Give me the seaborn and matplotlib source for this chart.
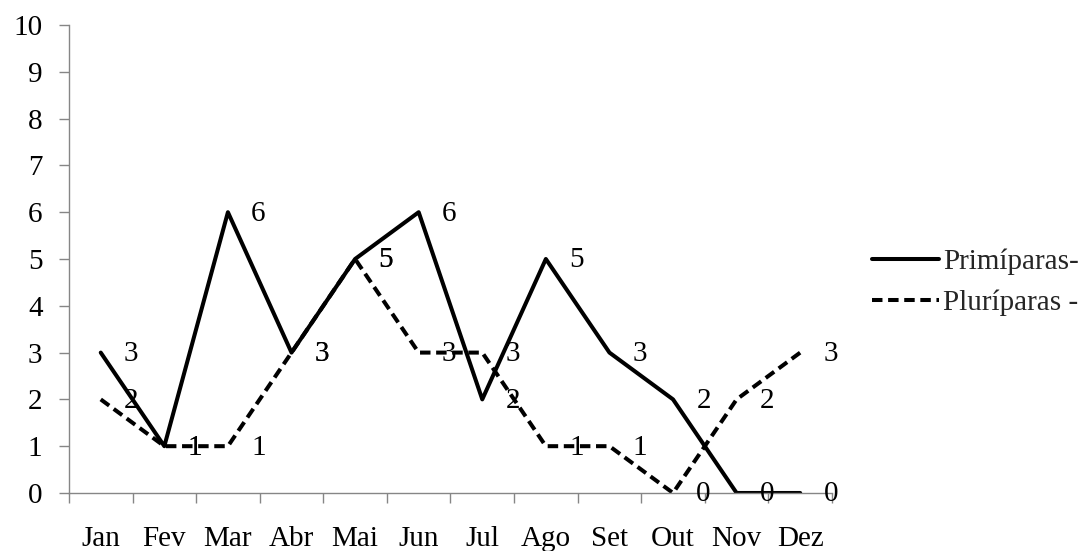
import matplotlib
matplotlib.use("Agg")
import matplotlib.pyplot as plt
from matplotlib.lines import Line2D
import numpy as np
import pandas as pd
import seaborn as sns

# Monthly counts for each group
meses = ["Jan", "Fev", "Mar", "Abr", "Mai", "Jun", "Jul", "Ago", "Set", "Out", "Nov", "Dez"]
primiparas = [3, 1, 6, 3, 5, 6, 2, 5, 3, 2, 0, 0]
pluriparas = [2, 1, 1, 3, 5, 3, 3, 1, 1, 0, 2, 3]
series_names = ["Primíparas-", "Pluríparas -"]
y_ticks = list(range(0, 11))

sns.set_theme(style="white")
plt.rcParams["font.family"] = ["Liberation Serif", "DejaVu Serif"]
FS = 21
plt.rcParams["font.size"] = FS

axis_grey = "#868686"
LW = 2.9
DASH = (2.6, 1.4)

df = pd.DataFrame({
    "pos": list(range(len(meses))) * 2,
    "valor": primiparas + pluriparas,
    "serie": [series_names[0]] * len(meses) + [series_names[1]] * len(meses),
})

fig = plt.figure(figsize=(10.91, 5.51), dpi=100)
ax = fig.add_axes([0.0632, 0.1053, 0.7626 - 0.0632, 0.9546 - 0.1053])

dash_map = {series_names[0]: "", series_names[1]: DASH}
sns.lineplot(data=df, x="pos", y="valor", style="serie", dashes=dash_map,
             color="black", linewidth=LW, legend=False, ax=ax,
             style_order=series_names)

# value labels placed to the right of each point
for vals in (primiparas, pluriparas):
    for i, v in enumerate(vals):
        ax.annotate(str(v), (i, v), xytext=(22, -1), textcoords="offset points",
                    ha="center", va="center", fontsize=FS, color="black")

ax.set_xlim(-0.5, len(meses) - 0.5)
ax.set_ylim(0, 10)
ax.set_yticks(y_ticks)
ax.set_yticklabels([str(t) for t in y_ticks])
ax.set_xticks(range(len(meses)))
ax.set_xticklabels(meses)
ax.set_xticks(np.arange(-0.5, len(meses), 1.0), minor=True)
ax.set_xlabel("")
ax.set_ylabel("")

for side in ("top", "right"):
    ax.spines[side].set_visible(False)
for side in ("left", "bottom"):
    ax.spines[side].set_color(axis_grey)
    ax.spines[side].set_linewidth(1.0)

ax.tick_params(axis="y", which="major", length=7, width=1.0, color=axis_grey,
               direction="out", pad=12, labelsize=FS, labelcolor="black", left=True)
ax.tick_params(axis="x", which="major", length=0, pad=24, labelsize=FS,
               labelcolor="black", bottom=True)
ax.tick_params(axis="x", which="minor", length=7, width=1.0, color=axis_grey,
               direction="out", bottom=True)

handles = [
    Line2D([], [], color="black", linewidth=LW),
    Line2D([], [], color="black", linewidth=LW, dashes=DASH),
]
fig.legend(handles, series_names, loc="center left",
           bbox_to_anchor=(872 / 1091, 1 - 282 / 551), frameon=False,
           handlelength=2.3, handletextpad=0.15, labelspacing=0.5,
           borderpad=0, borderaxespad=0, fontsize=FS)

fig.savefig("out.png", dpi=100)
